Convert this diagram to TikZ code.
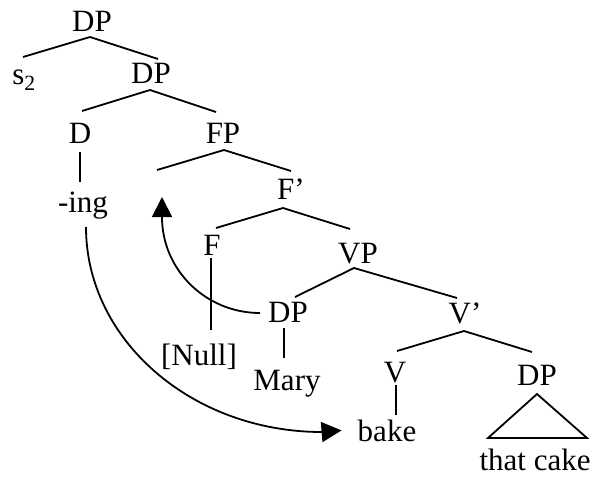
\documentclass[tikz,border=0pt]{standalone}
\usepackage{fontspec}
\setmainfont{Liberation Serif}
\usetikzlibrary{calc,arrows.meta}
\begin{document}
\begin{tikzpicture}[x=1pt,y=-1pt,
  lbl/.style={inner sep=0pt, anchor=base, font=\fontsize{31}{36}\selectfont},
  branch/.style={line width=1.8pt},
  mover/.style={line width=1.8pt, -{Triangle[length=20pt,width=20pt]}}]
\useasboundingbox (0,0) rectangle (591,481);
% labels
\node[lbl] (DPa) at (92,32) {DP};
\node[lbl] (s2) at (24,85) {s\textsubscript{2}};
\node[lbl] (DPb) at (151,84) {DP};
\node[lbl] (D) at (80,144) {D};
\node[lbl] (FP) at (223,144) {FP};
\node[lbl] (ing) at (83,212) {-ing};
\node[lbl] (Fbar) at (291,199) {F’};
\node[lbl] (F) at (212,255) {F};
\node[lbl] (VP) at (358,263) {VP};
\node[lbl] (DPm) at (288,322) {DP};
\node[lbl] (Null) at (199,365) {[Null]};
\node[lbl] (Mary) at (287,390) {Mary};
\node[lbl] (Vbar) at (465,323) {V’};
\node[lbl] (V) at (395,382) {V};
\node[lbl] (DPr) at (537,385) {DP};
\node[lbl] (bake) at (387,441) {bake};
\node[lbl] (cake) at (535,470) {that cake};
\coordinate (tl) at (157,170);
\coordinate (trace) at (162,197);
% branches
\draw[branch] ($(s2.base)+(-1,-28)$) -- ($(DPa.base)+(-2,5)$) -- ($(DPb.base)+(7,-25)$);
\draw[branch] ($(D.base)+(2,-33)$) -- ($(DPb.base)+(-1,6)$) -- ($(FP.base)+(-7,-32)$);
\draw[branch] (tl) -- ($(FP.base)+(1,6)$) -- ($(Fbar.base)+(0,-28)$);
\draw[branch] ($(F.base)+(4,-27)$) -- ($(Fbar.base)+(-8,9)$) -- ($(VP.base)+(-8,-34)$);
\draw[branch] ($(DPm.base)+(7,-25)$) -- ($(VP.base)+(-4,5)$) -- ($(Vbar.base)+(-8,-25)$);
\draw[branch] ($(V.base)+(2,-31)$) -- ($(Vbar.base)+(-1,8)$) -- ($(DPr.base)+(-5,-33)$);
\draw[branch] ($(D.base)+(0,8)$) -- ($(ing.base)+(-3,-30)$);
\draw[branch] ($(F.base)+(-1,3)$) -- ($(Null.base)+(12,-35)$);
\draw[branch] ($(DPm.base)+(-4,6)$) -- ($(Mary.base)+(-3,-32)$);
\draw[branch] ($(V.base)+(1,3)$) -- ($(bake.base)+(9,-26)$);
\draw[branch] ($(DPr.base)+(0,9)$) -- ($(cake.base)+(-47,-32)$) -- ($(cake.base)+(52,-32)$) -- cycle;
% movement arrows
\draw[mover] ($(DPm.base)+(-28,-9)$) .. controls (206,313) and (162,270) .. (162,217) -- (trace);
\draw[mover] ($(ing.base)+(3,15)$) .. controls (86,340) and (192,432) .. (322,432) -- ($(bake.west)+(-16,0)$);
\end{tikzpicture}
\end{document}
